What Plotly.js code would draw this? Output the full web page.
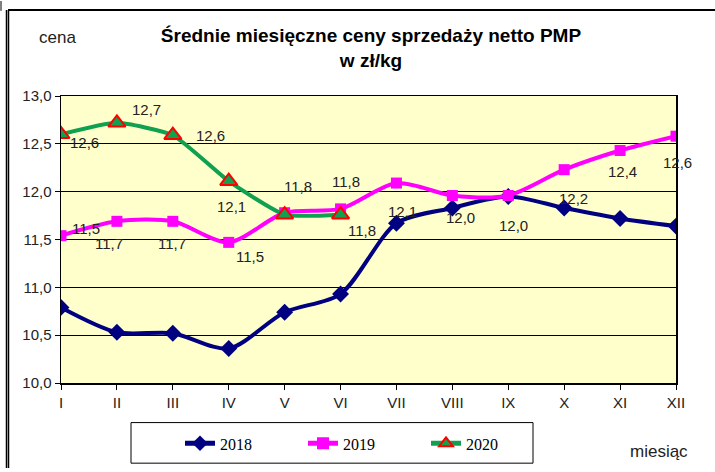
<!DOCTYPE html>
<html>
<head>
<meta charset="utf-8">
<script src="https://cdn.plot.ly/plotly-3.0.1.min.js"></script>
<style>
html,body{margin:0;padding:0;background:#fff;}
#chart{width:715px;height:472px;}
</style>
</head>
<body>
<div id="chart"></div>
<script>
const months = ['I','II','III','IV','V','VI','VII','VIII','IX','X','XI','XII'];
const y2018 = [10.79, 10.53, 10.52, 10.36, 10.74, 10.93, 11.67, 11.83, 11.95, 11.83, 11.72, 11.64];
const y2019 = [11.54, 11.69, 11.69, 11.47, 11.78, 11.82, 12.09, 11.96, 11.96, 12.23, 12.43, 12.58];
const y2020 = [12.60, 12.72, 12.59, 12.11, 11.76, 11.76];
const seriesNames = ['2018', '2019', '2020'];

// label placement (pixel offsets from point), null = no label
const off2019 = [[25,7],[-8,-22],[-1,-22],[21,-14],null,[21,-22],[6,-28],[8,-22],[5,-30],[9,-29],[2,-21],[1,-26]];
const off2020 = [[23,-8],[30,13],[38,0],[3,-25],[13,28],[5,33]];

const fmt = v => v.toFixed(1).replace('.', ',');
const FONT = 'Liberation Sans, Arial, sans-serif';

const traces = [
  {x: months, y: y2018, name: seriesNames[0], type: 'scatter', mode: 'lines+markers',
   line: {color: '#000080', width: 4, shape: 'spline', smoothing: 0.8},
   marker: {symbol: 'diamond', size: 13, color: '#000080'}},
  {x: months, y: y2019, name: seriesNames[1], type: 'scatter', mode: 'lines+markers',
   line: {color: '#FF00FF', width: 4, shape: 'spline', smoothing: 0.8},
   marker: {symbol: 'square', size: 11, color: '#FF00FF'}},
  {x: months.slice(0, y2020.length), y: y2020, name: seriesNames[2], type: 'scatter', mode: 'lines+markers',
   line: {color: '#10A050', width: 4, shape: 'spline', smoothing: 0.5},
   marker: {symbol: 'triangle-up', size: 15, color: '#10A050', line: {color: '#FF0000', width: 2}}}
];

const annotations = [];
function addLabels(xs, ys, offs) {
  ys.forEach((v, i) => {
    const o = offs[i];
    if (!o) return;
    annotations.push({x: xs[i], y: v, xref: 'x', yref: 'y', text: fmt(v), showarrow: false,
      xanchor: 'center', yanchor: 'middle',
      xshift: o[0], yshift: o[1], font: {family: FONT, size: 15, color: '#222'}});
  });
}
addLabels(months, y2019, off2019);
addLabels(months, y2020, off2020);

// plot area px: x 61..676, y 96..386
const L = 61, R = 676, T = 96, B = 386;
const px = v => (v - L) / (R - L);
const py = v => (B - v) / (B - T);

annotations.push({text: 'cena', xref: 'paper', yref: 'paper', x: px(57), y: py(37), showarrow: false,
  xanchor: 'center', yanchor: 'middle', font: {family: FONT, size: 17, color: '#222'}});
annotations.push({text: 'miesiąc', xref: 'paper', yref: 'paper', x: px(659), y: py(455), showarrow: false,
  xanchor: 'center', yanchor: 'middle', font: {family: FONT, size: 17, color: '#222'}});

const shapes = [
  {type: 'line', xref: 'paper', yref: 'paper', x0: px(8), x1: px(715), y0: py(9), y1: py(9), line: {color: '#000', width: 2}},
  {type: 'line', xref: 'paper', yref: 'paper', x0: px(6.5), x1: px(6.5), y0: py(9), y1: py(472), line: {color: '#000', width: 1.5}},
  {type: 'line', xref: 'paper', yref: 'paper', x0: px(8.5), x1: px(8.5), y0: py(9), y1: py(472), line: {color: '#000', width: 1.5}},
  {type: 'line', xref: 'paper', yref: 'paper', x0: px(1), x1: px(1), y0: py(0), y1: py(10), line: {color: '#000', width: 1}},
  {type: 'rect', xref: 'paper', yref: 'paper', x0: px(131), x1: px(533), y0: py(426), y1: py(467), line: {color: '#000', width: 1}, fillcolor: 'rgba(0,0,0,0)'}
];

const layout = {
  width: 715, height: 472,
  margin: {l: L, r: 715 - R, t: T, b: 472 - B},
  paper_bgcolor: '#ffffff',
  plot_bgcolor: '#FFFFCC',
  separators: ', ',
  title: {text: '<b>Średnie miesięczne ceny sprzedaży netto PMP<br>w zł/kg</b>',
    font: {family: FONT, size: 19, color: '#000'},
    x: 371 / 715, xanchor: 'center', y: 1 - 42 / 472, yanchor: 'middle'},
  xaxis: {type: 'category', range: [0, 11], showgrid: false, zeroline: false,
    showline: true, linecolor: '#000', linewidth: 1.5, mirror: true,
    ticks: 'outside', ticklen: 5, tickcolor: '#000',
    tickfont: {family: FONT, size: 15, color: '#222'}},
  yaxis: {range: [10, 13], dtick: 0.5, tickformat: '.1f', showgrid: true, gridcolor: '#000', gridwidth: 1,
    zeroline: false, showline: true, linecolor: '#000', linewidth: 1.5, mirror: true,
    ticks: 'outside', ticklen: 5, tickcolor: '#000',
    tickfont: {family: FONT, size: 15, color: '#222'}},
  showlegend: true,
  legend: {orientation: 'h', x: px(180), xanchor: 'left', y: py(447), yanchor: 'middle',
    bgcolor: 'rgba(0,0,0,0)', borderwidth: 0, entrywidth: 78, entrywidthmode: 'pixels',
    itemsizing: 'constant',
    font: {family: 'Liberation Serif', size: 16, color: '#000'}},
  annotations: annotations,
  shapes: shapes
};

Plotly.newPlot('chart', traces, layout, {displayModeBar: false, staticPlot: true});
</script>
</body>
</html>
